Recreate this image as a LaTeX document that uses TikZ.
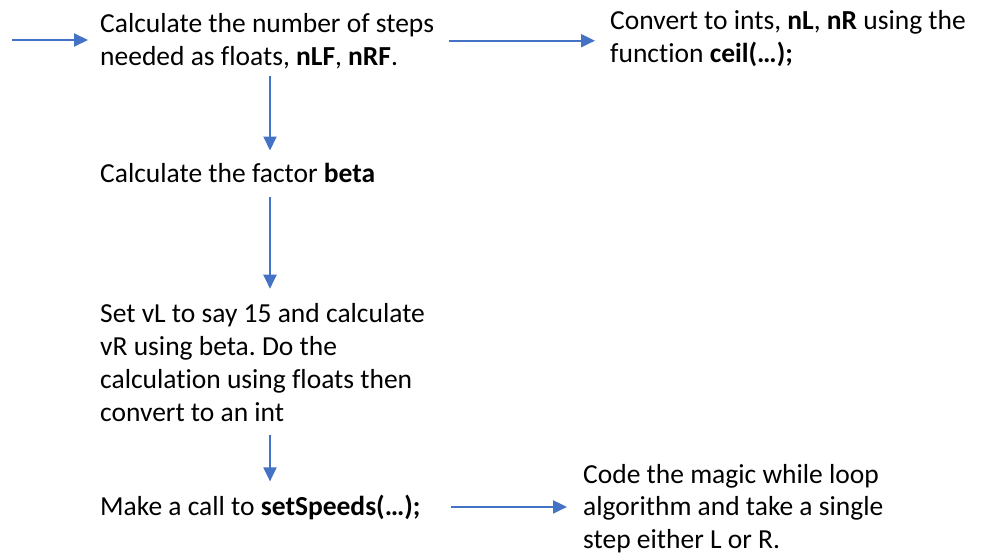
\documentclass[tikz,border=0pt]{standalone}
\usepackage{fontspec}
\usepackage{xcolor}
\setmainfont[Ligatures=NoCommon]{Carlito}
\usetikzlibrary{arrows.meta}
\definecolor{flowBlue}{HTML}{4472C4}
\definecolor{ink}{HTML}{000000}
\frenchspacing

\tikzset{
  stepText/.style={inner sep=0pt, anchor=base west, align=left, text=ink,
    font=\fontsize{27.5}{33}\selectfont},
  flow/.style={draw=flowBlue, line width=2pt,
    -{Triangle[length=14pt, width=13pt]}}
}

\begin{document}
\begin{tikzpicture}[x=1pt, y=-1pt]
\useasboundingbox[fill=white] (0,0) rectangle (986,554);

% text of each step (placed at the baseline of the last line)
\node[stepText] (steps) at (100,65) {Calculate the number of steps\\needed as floats, \textbf{nLF}, \textbf{nRF}.};
\node[stepText] (ints) at (610,62) {Convert to ints, \textbf{nL}, \textbf{nR} using the\\function \textbf{ceil(…);}};
\node[stepText] (beta) at (100,182) {Calculate the factor \textbf{beta}};
\node[stepText] (speeds) at (100,421) {Set vL to say 15 and calculate\\vR using beta. Do the\\calculation using floats then\\convert to an int};
\node[stepText] (call) at (100,515) {Make a call to \textbf{setSpeeds(…);}};
\node[stepText, font=\fontsize{27.5}{32.5}\selectfont] (loop) at (583,548) {Code the magic while loop\\algorithm and take a single\\step either L or R.};

\coordinate (in) at (12,40);
\coordinate (spine) at (270,0);

% connectors
\draw[flow, shorten >=12pt] (in) -- (in -| steps.west);
\draw[flow, shorten <=15pt, shorten >=15pt] (steps.east) -- (steps.east -| ints.west);
\draw[flow, shorten <=7pt, shorten >=12pt] (spine |- steps.south) -- (spine |- beta.north);
\draw[flow, shorten <=15pt, shorten >=14pt] (spine |- beta.south) -- (spine |- speeds.north);
\draw[flow, shorten <=14pt, shorten >=13pt] (spine |- speeds.south) -- (spine |- call.north);
\draw[flow, shorten <=30pt, shorten >=16pt] (call.east) -- (call.east -| loop.west);
\end{tikzpicture}
\end{document}
